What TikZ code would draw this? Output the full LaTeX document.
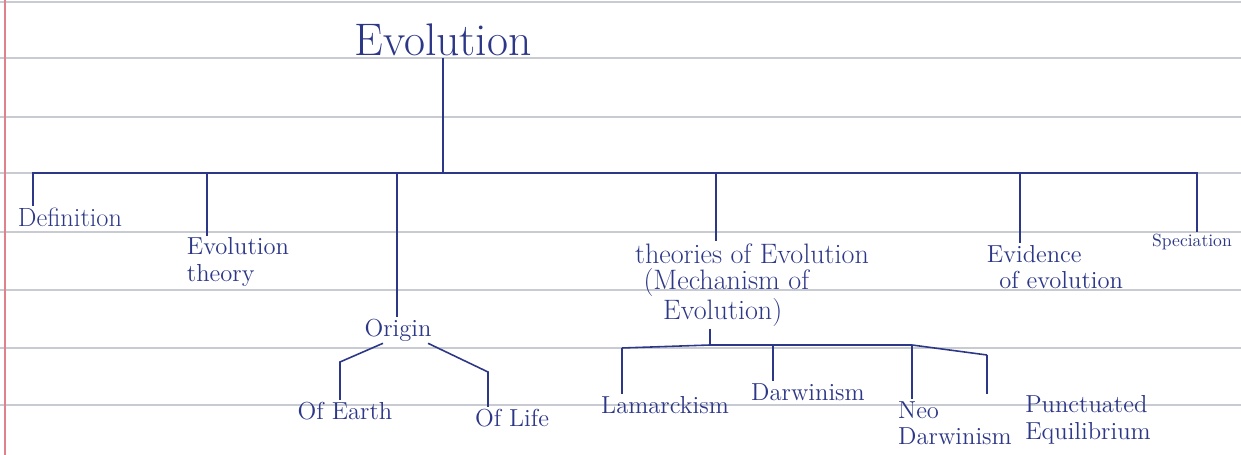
\documentclass[tikz,border=0pt]{standalone}
\usetikzlibrary{positioning}
\definecolor{ink}{RGB}{45,55,135}
\definecolor{ruling}{RGB}{200,204,210}
\definecolor{margin}{RGB}{222,130,140}
\begin{document}
\begin{tikzpicture}[x=0.02cm,y=-0.02cm,
    word/.style={text=ink,font=\fontsize{14}{15}\selectfont,inner sep=1pt,align=left},
    wire/.style={draw=ink,line width=0.9pt}]
\useasboundingbox (0,0) rectangle (1241,455);
% ruled paper
\foreach \y in {2,58,117,173,232,290,348,405}{
    \draw[ruling,line width=0.6pt] (0,\y) -- (1241,\y);
}
\draw[margin,line width=0.8pt] (5,0) -- (5,455);

% labels
\node[word,font=\fontsize{26}{28}\selectfont] (evo) at (443,40) {Evolution};
\node[word,font=\fontsize{15}{16}\selectfont] (defn) at (70,217) {Definition};
\node[word] (etheory) at (238,262) {Evolution\\theory};
\node[word] (origin) at (398,330) {Origin};
\node[word,font=\fontsize{16}{15}\selectfont] (theories) at (752,285) {theories of Evolution\\\hspace{0.3em}(Mechanism of\\\hspace{1em}Evolution)};
\node[word] (evid) at (1055,267) {Evidence\\\hspace{0.5em}of evolution};
\node[word,font=\fontsize{10}{11}\selectfont] (spec) at (1192,242) {Speciation};
\node[word] (earth) at (345,411) {Of Earth};
\node[word] (life) at (512,418) {Of Life};
\node[word] (lamarck) at (665,405) {Lamarckism};
\node[word] (darwin) at (808,392) {Darwinism};
\node[word] (neo) at (955,423) {Neo\\Darwinism};
\node[word] (punct) at (1088,420) {Punctuated\\Equilibrium};

% main bus
\coordinate (busL) at (33,173);
\coordinate (busR) at (1197,173);
\draw[wire] (evo.south) -- (evo.south |- busL);
\draw[wire] (defn.north -| busL) -- (busL) -- (busR) -- (spec.north -| busR);
\foreach \n/\x in {etheory/207,origin/397,theories/716,evid/1020}{
    \coordinate (tap) at (\x,173);
    \draw[wire] (tap) -- (tap |- \n.north);
}

% origin
\coordinate (oL) at (340,362);
\coordinate (oR) at (488,372);
\draw[wire] ([xshift=-0.3cm]origin.south) -- (oL) -- (oL |- earth.north);
\draw[wire] ([xshift=0.6cm]origin.south) -- (oR) -- (oR |- life.north);

% mechanism
\coordinate (mbus) at (710,345);
\coordinate (mL) at (622,348);
\coordinate (mD) at (773,345);
\coordinate (mN) at (912,345);
\coordinate (mP) at (987,355);
\draw[wire] (mbus |- theories.south) -- (mbus);
\draw[wire] (mL) -- (mbus) -- (mN) -- (mP);
\foreach \c/\n in {mL/lamarck,mD/darwin,mN/neo,mP/punct}{
    \draw[wire] (\c) -- (\c |- \n.north);
}
\end{tikzpicture}
\end{document}
